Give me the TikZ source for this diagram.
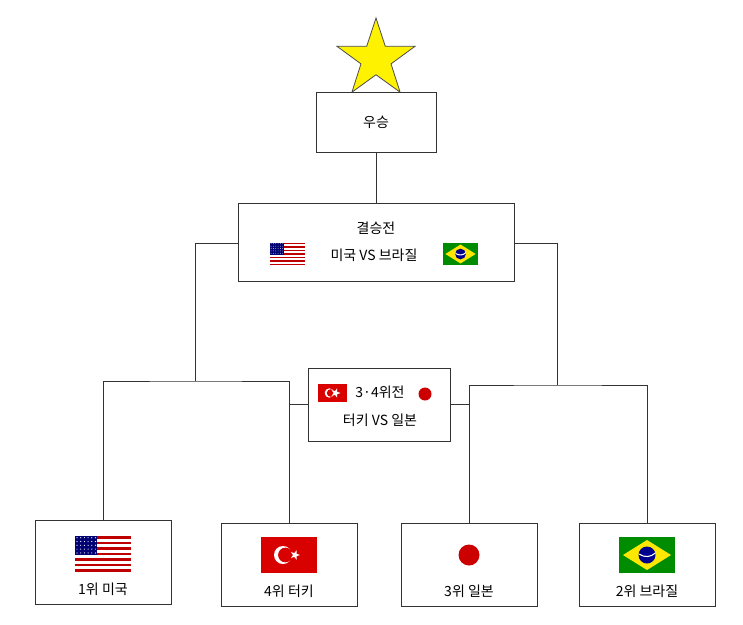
\documentclass[tikz,border=0pt]{standalone}
\usepackage{fontspec}
\newfontfamily\krfont{Noto Sans CJK KR}
\usetikzlibrary{shapes.geometric}
\tikzset{every picture/.style={line width=0.75pt}}
\tikzset{
  box/.style={draw=black!80, line width=0.6pt, fill=white, inner sep=0pt},
  lbl/.style={font=\krfont\fontsize{10.5}{14}\selectfont, inner sep=0.75pt},
  link/.style={draw=black!80, line width=0.6pt},
  usflag/.pic={
    \fill[red!75!black] (-28,-18) rectangle (28,18);
    \foreach \i in {1,3,5,7,9,11} \fill[white] (-28,-18+\i*36/13) rectangle (28,-18+\i*36/13+36/13);
    \fill[blue!45!black] (-28,18) rectangle (-5.6,18-7*36/13);
    \foreach \r in {0,...,4} \foreach \c in {0,...,5} \fill[white] (-26+\c*3.7,16.3-\r*3.8) circle (0.6);
  },
  trflag/.pic={
    \fill[red!85!black] (-28,-18) rectangle (28,18);
    \fill[white] (-6,0) circle (9);
    \fill[red!85!black] (-3.6,0) circle (7.3);
    \node[star, star points=5, star point ratio=2.5, fill=white, inner sep=0pt, minimum size=7.5pt, rotate=-90] at (6,0) {};
  },
  jpflag/.pic={
    \fill[white] (-28,-18) rectangle (28,18);
    \fill[red!80!black] (0,0) circle (10.5);
  },
  brflag/.pic={
    \fill[green!55!black] (-28,-18) rectangle (28,18);
    \fill[yellow!90!orange] (-24,0) -- (0,-15) -- (24,0) -- (0,15) -- cycle;
    \fill[blue!55!black] (0,0) circle (8.5);
    \draw[white, line width=0.8pt] (-8,1) .. controls (-2,-3) and (4,-2) .. (8.3,2);
  }
}

\begin{document}
\begin{tikzpicture}[x=0.75pt,y=0.75pt,yscale=-1,xscale=1]
\useasboundingbox (0,0) rectangle (743,625);

% star and winner
\node[star, star points=5, star point ratio=2.6, fill=yellow, draw=black!70, line width=0.6pt, inner sep=0pt, minimum size=61.5pt] (top) at (376,59) {};
\node[box, minimum width=90pt, minimum height=45pt] (win) at (376,122) {};
\node[lbl] (winT) at (376,122) {우승};

% final
\node[box, minimum width=207pt, minimum height=58.5pt] (fin) at (376,242) {};
\node[lbl] (finT) at (376,228) {결승전};
\node[lbl] (finM) at (374,255) {미국 VS 브라질};
\pic[scale=0.63] at (287.5,254) {usflag};
\pic[scale=0.63] at (460.5,254) {brflag};

% third place
\node[box, minimum width=106.5pt, minimum height=54.75pt] (thd) at (379,404.5) {};
\node[lbl] (thdT) at (380,392) {3·4위전};
\node[lbl] (thdM) at (380,420) {터키 VS 일본};
\pic[scale=0.52] at (332.5,393) {trflag};
\fill[red!80!black] (425,394) circle (6.5);

% teams
\node[box, minimum width=102pt, minimum height=63pt] (usa) at (103,562) {};
\node[box, minimum width=102pt, minimum height=62.25pt] (tur) at (289,564.5) {};
\node[box, minimum width=102pt, minimum height=62.25pt] (jpn) at (469,564.5) {};
\node[box, minimum width=102pt, minimum height=62.25pt] (bra) at (647,564.5) {};
\pic at (103,554) {usflag};
\pic at (289,555) {trflag};
\pic at (469,555) {jpflag};
\pic at (647,555) {brflag};
\node[lbl] (usaT) at (103,589) {1위 미국};
\node[lbl] (turT) at (289,591) {4위 터키};
\node[lbl] (jpnT) at (469,591) {3위 일본};
\node[lbl] (braT) at (647,591) {2위 브라질};

% connectors
\coordinate (jL) at (195,381);
\coordinate (jR) at (557,385);
\draw[link] (win.south) -- (fin.north);
\draw[link] (fin.west |- 0,243) -| (jL);
\draw[link] (fin.east |- 0,243) -| (jR);
\draw[link] (usa.north) |- (jL) -| (tur.north);
\draw[link] (jpn.north) |- (jR) -| (bra.north);
\draw[link] (thd.west) -- (thd.west -| tur.north);
\draw[link] (thd.east) -- (thd.east -| jpn.north);
\end{tikzpicture}
\end{document}
